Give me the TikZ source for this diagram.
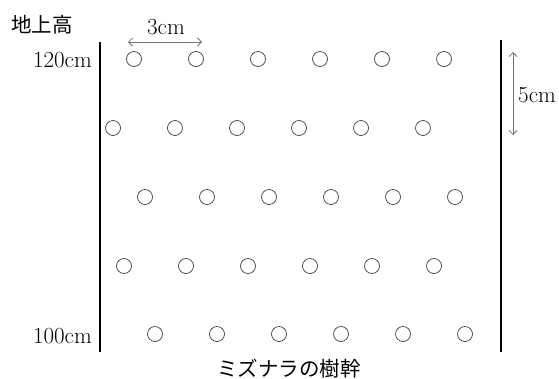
\documentclass[tikz,border=0pt]{standalone}
\usepackage{fontspec}
\newfontfamily\jp{Noto Sans CJK JP}
\usetikzlibrary{arrows.meta}
\begin{document}
\begin{tikzpicture}[x=1pt,y=-1pt,
  hole/.style={circle,draw=black!75,line width=0.7pt,minimum size=15pt,inner sep=0pt},
  trunk/.style={line width=2pt,black},
  dim/.style={draw=black!55,line width=0.8pt,{Straight Barb[length=4pt,width=8pt]}-{Straight Barb[length=4pt,width=8pt]}},
  lbl/.style={inner sep=0pt,font=\fontsize{23}{26}\selectfont},
  jlbl/.style={inner sep=0pt,font=\fontsize{20.5}{24}\selectfont\jp}]
\useasboundingbox (0,0) rectangle (559,378);
% trunk edges
\coordinate (lt) at (100,42);
\coordinate (lb) at (100,352);
\coordinate (rt) at (501,40);
\coordinate (rb) at (501,352);
\draw[trunk] (lt) -- (lb);
\draw[trunk] (rt) -- (rb);
% holes
\foreach \r/\y/\x in {1/59/134, 2/128/113, 3/197/145, 4/266/124, 5/334/155}{
  \foreach \i in {0,...,5}{
    \node[hole] (c\r-\i) at ({\x+62*\i},\y) {};
  }
}
% labels
\node[jlbl] (height) at (42,25) {地上高};
\node[lbl,anchor=east] (top) at (92,60) {120cm};
\node[lbl,anchor=east] (bot) at (92,336) {100cm};
\node[jlbl] (trunklbl) at (289,369) {ミズナラの樹幹};
% 3cm dimension
\coordinate (h1) at (128,42);
\coordinate (h2) at (202,42);
\draw[dim] (h1) -- (h2);
\node[lbl] (three) at (166,27) {3cm};
% 5cm dimension
\coordinate (v1) at (513,52);
\coordinate (v2) at (513,135);
\draw[dim] (v1) -- (v2);
\node[lbl,anchor=west] (five) at (518,95) {5cm};
\end{tikzpicture}
\end{document}
